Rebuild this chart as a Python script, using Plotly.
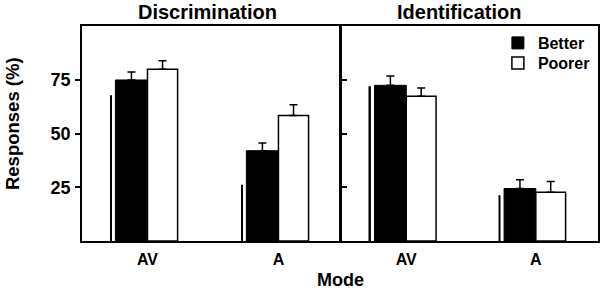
import plotly.graph_objects as go

categories = ["AV", "A"]
x_pos = [0, 1]

disc_better = [74.9, 42.0]
disc_better_err = [3.7, 3.6]
disc_poorer = [79.9, 58.4]
disc_poorer_err = [3.9, 5.0]
disc_line = [67.8, 26.2]

ident_better = [72.4, 24.4]
ident_better_err = [4.4, 4.1]
ident_poorer = [67.3, 22.7]
ident_poorer_err = [3.9, 5.0]
ident_line = [72.0, 21.3]

y_ticks = [25, 50, 75]

FONT = dict(family="Liberation Sans, Arial, sans-serif", color="black", weight="bold")

fig = go.Figure()

def add_panel(better, berr, poorer, perr, line, xa, ya, showlegend):
    fig.add_trace(go.Bar(x=x_pos, y=line, width=0.012, offset=-0.285,
                         marker=dict(color="black", line=dict(width=0)),
                         showlegend=False, xaxis=xa, yaxis=ya, hoverinfo="skip"))
    fig.add_trace(go.Bar(x=x_pos, y=better, name="Better", width=0.245, offset=-0.245,
                         marker=dict(color="black", line=dict(color="black", width=1)),
                         error_y=dict(type="data", symmetric=False, array=berr,
                                      arrayminus=[0] * len(berr), width=4,
                                      thickness=1.5, color="black"),
                         showlegend=showlegend, legend="legend", xaxis=xa, yaxis=ya))
    fig.add_trace(go.Bar(x=x_pos, y=poorer, name="Poorer", width=0.23, offset=0.0,
                         marker=dict(color="white", line=dict(color="black", width=1.5)),
                         error_y=dict(type="data", symmetric=False, array=perr,
                                      arrayminus=[0] * len(perr), width=4,
                                      thickness=1.5, color="black"),
                         showlegend=showlegend, legend="legend2", xaxis=xa, yaxis=ya))

add_panel(disc_better, disc_better_err, disc_poorer, disc_poorer_err, disc_line, "x", "y", False)
add_panel(ident_better, ident_better_err, ident_poorer, ident_poorer_err, ident_line, "x2", "y2", True)

axis_common = dict(showline=True, linecolor="black", linewidth=1.5, mirror=True,
                   showgrid=False, zeroline=False)

legend_common = dict(xanchor="left", yanchor="top", bgcolor="rgba(0,0,0,0)",
                     font=dict(size=16, **FONT), itemwidth=30)

fig.update_layout(
    width=601, height=290,
    margin=dict(l=82, r=3, t=26, b=49, autoexpand=False),
    paper_bgcolor="white", plot_bgcolor="white",
    barmode="overlay",
    font=dict(family=FONT["family"], color="black", size=16),
    xaxis=dict(domain=[0, 0.5], range=[-0.5, 1.47], tickvals=x_pos, ticktext=categories,
               ticks="", ticklabelstandoff=3, tickfont=dict(size=16, **FONT), **axis_common),
    xaxis2=dict(domain=[0.5029, 1], range=[-0.5, 1.48], tickvals=x_pos, ticktext=categories,
                ticks="", ticklabelstandoff=3, tickfont=dict(size=16, **FONT), anchor="y2",
                **axis_common),
    yaxis=dict(range=[0, 100], tickvals=y_ticks, ticks="outside", ticklen=5,
               tickwidth=1.5, tickcolor="black", ticklabelstandoff=1,
               tickfont=dict(size=18, **FONT), **axis_common),
    yaxis2=dict(range=[0, 100], tickvals=y_ticks, ticks="inside", ticklen=6,
                tickwidth=1.5, tickcolor="black", showticklabels=False,
                anchor="x2", **axis_common),
    legend=dict(x=0.806, y=1.0, **legend_common),
    legend2=dict(x=0.806, y=0.907, **legend_common),
    showlegend=True,
)

fig.add_annotation(text="Discrimination", xref="paper", yref="paper", x=0.244, y=1,
                   xanchor="center", yanchor="bottom", yshift=1, showarrow=False,
                   font=dict(size=20, **FONT))
fig.add_annotation(text="Identification", xref="paper", yref="paper", x=0.731, y=1,
                   xanchor="center", yanchor="bottom", yshift=1, showarrow=False,
                   font=dict(size=20, **FONT))
fig.add_annotation(text="Responses (%)", xref="paper", yref="paper", x=0, y=0.544,
                   xanchor="center", yanchor="middle", xshift=-70, textangle=-90,
                   showarrow=False, font=dict(size=18.5, **FONT))
fig.add_annotation(text="Mode", xref="paper", yref="paper", x=0.5, y=0,
                   xanchor="center", yanchor="top", yshift=-27, showarrow=False,
                   font=dict(size=18, **FONT))

fig.write_html("out.html", config={"displayModeBar": False},
               post_script="document.body.style.margin='0px';")
